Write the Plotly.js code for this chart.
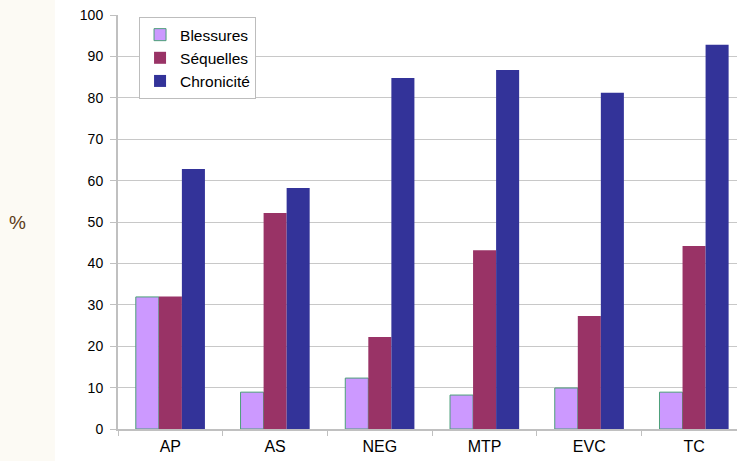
<!DOCTYPE html>
<html><head><meta charset="utf-8">
<script src="https://cdn.plot.ly/plotly-3.0.1.min.js"></script>
<style>html,body{margin:0;padding:0;background:#fff;}#chart{width:737px;height:461px;}</style>
</head><body><div id="chart"></div>
<script>
const categories = ["AP", "AS", "NEG", "MTP", "EVC", "TC"];
const blessures = [31.9, 8.9, 12.3, 8.2, 9.9, 8.9];
const sequelles = [32.0, 52.2, 22.2, 43.2, 27.3, 44.2];
const chronicite = [62.8, 58.2, 84.8, 86.7, 81.2, 92.8];
const seriesNames = ["Blessures", "Séquelles", "Chronicité"];
const yTicks = [0, 10, 20, 30, 40, 50, 60, 70, 80, 90, 100];

const traces = [
  {type: "bar", name: seriesNames[0], x: categories, y: blessures,
   marker: {color: "#CC99FF", line: {color: "#4C9F7A", width: 1}}},
  {type: "bar", name: seriesNames[1], x: categories, y: sequelles,
   marker: {color: "#993366", line: {width: 0}}},
  {type: "bar", name: seriesNames[2], x: categories, y: chronicite,
   marker: {color: "#333399", line: {width: 0}}}
];

const layout = {
  width: 737, height: 461,
  margin: {l: 118, r: 0, t: 15, b: 32, pad: 0},
  paper_bgcolor: "#ffffff", plot_bgcolor: "#ffffff",
  font: {family: "Liberation Sans, Arial, sans-serif", size: 14, color: "#000"},
  barmode: "group", bargap: 0.34, bargroupgap: 0,
  showlegend: true,
  legend: {x: 0.034, y: 0.995, xanchor: "left", yanchor: "top",
           bgcolor: "#ffffff", bordercolor: "#bdbdbd", borderwidth: 1,
           font: {size: 15.5, color: "#000"}, tracegroupgap: 0, itemwidth: 30},
  xaxis: {type: "category", range: [-0.5, 5.41], showgrid: false,
          showline: true, linecolor: "#c0c0c0", linewidth: 2,
          ticks: "outside", tickson: "boundaries", ticklen: 5, tickcolor: "#c0c0c0", tickwidth: 1,
          tickfont: {size: 16}, ticklabelstandoff: 2, fixedrange: true},
  yaxis: {range: [0, 100], tickvals: yTicks, ticktext: yTicks.map(String),
          showgrid: true, gridcolor: "#c8c8c8", gridwidth: 1,
          showline: true, linecolor: "#c0c0c0", linewidth: 2,
          ticks: "outside", ticklen: 6, tickcolor: "#c0c0c0", tickwidth: 1,
          zeroline: false, tickfont: {size: 14}, ticklabelstandoff: 4, fixedrange: true},
  shapes: [
    {type: "rect", xref: "paper", yref: "paper", x0: -0.191, x1: -0.102, y0: -0.08, y1: 1.04,
     fillcolor: "#FCFAF4", line: {width: 0}, layer: "below"}
  ],
  annotations: [
    {text: "%", xref: "paper", yref: "paper", x: -0.162, y: 0.5, showarrow: false,
     font: {size: 19, color: "#5C3A17"}, xanchor: "center", yanchor: "middle"}
  ]
};

Plotly.newPlot("chart", traces, layout, {displayModeBar: false, staticPlot: true});
</script></body></html>
